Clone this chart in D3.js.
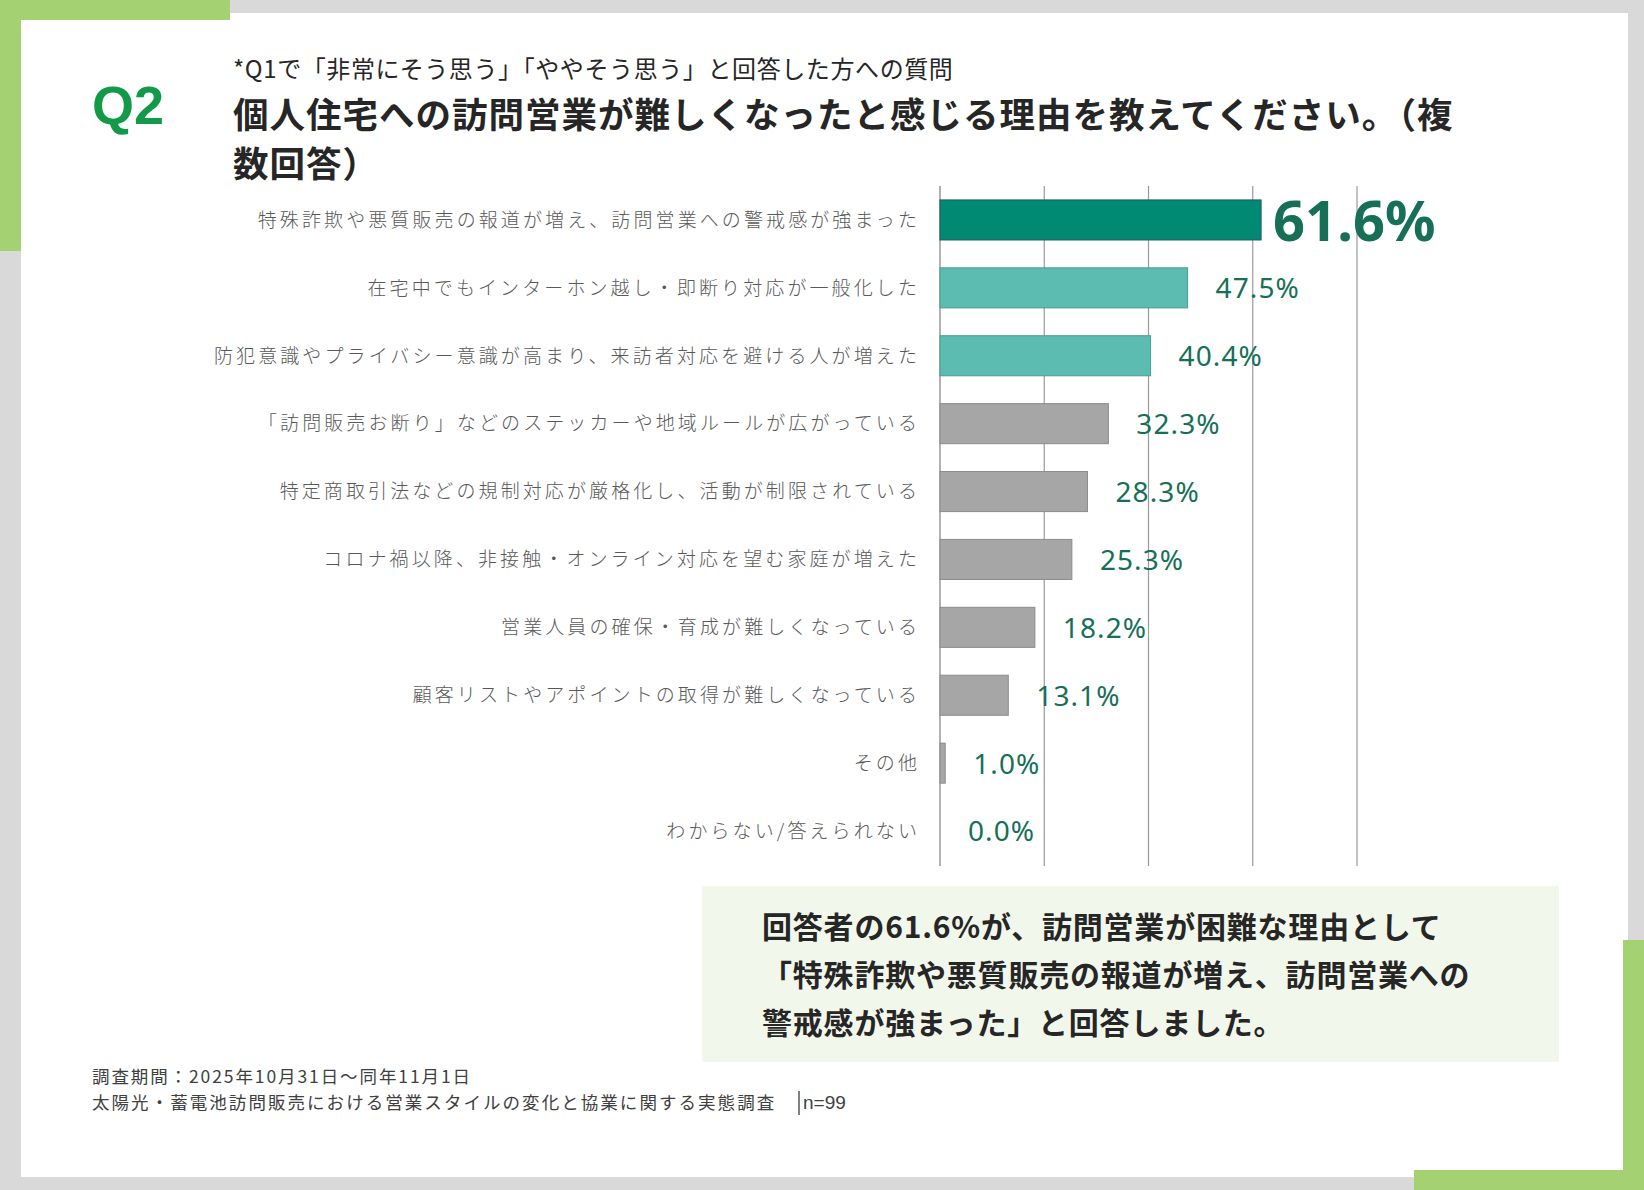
<!DOCTYPE html>
<html lang="ja">
<head>
<meta charset="utf-8">
<script src="https://cdn.jsdelivr.net/npm/d3@7"></script>
<style>
  html, body { margin: 0; padding: 0; background: #d9d9d9; }
  svg { display: block; }
</style>
</head>
<body>
<svg id="chart"></svg>
<script>
// data
const categories = [
  "特殊詐欺や悪質販売の報道が増え、訪問営業への警戒感が強まった",
  "在宅中でもインターホン越し・即断り対応が一般化した",
  "防犯意識やプライバシー意識が高まり、来訪者対応を避ける人が増えた",
  "「訪問販売お断り」などのステッカーや地域ルールが広がっている",
  "特定商取引法などの規制対応が厳格化し、活動が制限されている",
  "コロナ禍以降、非接触・オンライン対応を望む家庭が増えた",
  "営業人員の確保・育成が難しくなっている",
  "顧客リストやアポイントの取得が難しくなっている",
  "その他",
  "わからない/答えられない"
];
const values = [61.6, 47.5, 40.4, 32.3, 28.3, 25.3, 18.2, 13.1, 1.0, 0.0];
const gridTicks = [0, 20, 40, 60, 80];

const subtitle = "*Q1で「非常にそう思う」「ややそう思う」と回答した方への質問";
const titleLines = [
  "個人住宅への訪問営業が難しくなったと感じる理由を教えてください。（複",
  "数回答）"
];
const calloutLines = [
  "回答者の61.6%が、訪問営業が困難な理由として",
  "「特殊詐欺や悪質販売の報道が増え、訪問営業への",
  "警戒感が強まった」と回答しました。"
];
const footerLines = [
  "調査期間：2025年10月31日〜同年11月1日",
  "太陽光・蓄電池訪問販売における営業スタイルの変化と協業に関する実態調査"
];
const sampleNote = "n=99";

const width = 1644;
const height = 1190;

const jp = "'Noto Sans CJK JP', 'Noto Sans', sans-serif";

const svg = d3.select("#chart")
  .attr("width", width)
  .attr("height", height)
  .attr("viewBox", [0, 0, width, height]);

// page frame: grey back, white card, green corner brackets
svg.append("rect").attr("width", width).attr("height", height).attr("fill", "#d9d9d9");
svg.append("rect").attr("x", 21).attr("y", 13).attr("width", 1607).attr("height", 1164).attr("fill", "#fff");

const green = "#a4d171";
svg.append("rect").attr("x", 0).attr("y", 0).attr("width", 230).attr("height", 20).attr("fill", green);
svg.append("rect").attr("x", 0).attr("y", 0).attr("width", 21).attr("height", 251).attr("fill", green);
svg.append("rect").attr("x", 1623).attr("y", 940).attr("width", 21).attr("height", 250).attr("fill", green);
svg.append("rect").attr("x", 1414).attr("y", 1170).attr("width", 230).attr("height", 20).attr("fill", green);

// heading
svg.append("text")
  .attr("x", 92).attr("y", 124)
  .attr("font-family", "'Liberation Sans', Arial, sans-serif")
  .attr("font-weight", 700)
  .attr("font-size", 54)
  .attr("fill", "#129a48")
  .text("Q2");

svg.append("text")
  .attr("x", 233).attr("y", 78)
  .attr("font-family", jp)
  .attr("font-size", 24)
  .attr("letter-spacing", 0.6)
  .attr("fill", "#262626")
  .text(subtitle);

svg.append("g")
  .selectAll("text")
  .data(titleLines)
  .join("text")
  .attr("x", 233)
  .attr("y", (d, i) => 128 + i * 49)
  .attr("font-family", jp)
  .attr("font-weight", 700)
  .attr("font-size", 35.5)
  .attr("letter-spacing", 1)
  .attr("fill", "#262626")
  .text(d => d);

// scales
const x = d3.scaleLinear().domain([0, 80]).range([940, 1357]);
const y = d3.scaleBand()
  .domain(categories)
  .range([186, 865])
  .paddingInner(0.41)
  .paddingOuter(0.205);

// grid lines
svg.append("g")
  .selectAll("line")
  .data(gridTicks)
  .join("line")
  .attr("x1", d => x(d)).attr("x2", d => x(d))
  .attr("y1", 186).attr("y2", 866)
  .attr("stroke", d => d === 0 ? "#7f7f7f" : "#9a9a9a")
  .attr("stroke-width", 1.2);

const fillFor = i => i === 0 ? "#008a73" : (i < 3 ? "#5dbcb1" : "#a6a6a6");
const strokeFor = i => i === 0 ? "#1f5e52" : (i < 3 ? "#4a9c92" : "#8c8c8c");

// bars
svg.append("g")
  .selectAll("rect")
  .data(values)
  .join("rect")
  .attr("x", x(0))
  .attr("y", (d, i) => y(categories[i]))
  .attr("width", d => x(d) - x(0))
  .attr("height", y.bandwidth())
  .attr("fill", (d, i) => fillFor(i))
  .attr("stroke", (d, i) => d > 0 ? strokeFor(i) : "none")
  .attr("stroke-width", 1);

// category labels
svg.append("g")
  .selectAll("text")
  .data(categories)
  .join("text")
  .attr("x", 920)
  .attr("y", d => y(d) + y.bandwidth() / 2)
  .attr("dy", "0.36em")
  .attr("text-anchor", "end")
  .attr("font-family", jp)
  .attr("font-weight", 300)
  .attr("font-size", 19)
  .attr("letter-spacing", 3.1)
  .attr("fill", "#595959")
  .text(d => d);

// value labels
svg.append("g")
  .selectAll("text")
  .data(values)
  .join("text")
  .attr("x", (d, i) => x(d) + (i === 0 ? 12 : 28))
  .attr("y", (d, i) => y(categories[i]) + y.bandwidth() / 2)
  .attr("dy", "0.37em")
  .attr("font-family", "'Noto Sans', 'Open Sans', sans-serif")
  .attr("font-weight", (d, i) => i === 0 ? 700 : 400)
  .attr("font-size", (d, i) => i === 0 ? 56 : 28)
  .attr("letter-spacing", (d, i) => i === 0 ? 0 : 1.1)
  .attr("fill", "#176f58")
  .text(d => d.toFixed(1) + "%");

// callout
svg.append("rect")
  .attr("x", 702).attr("y", 886)
  .attr("width", 857).attr("height", 176)
  .attr("fill", "#f2f7ec");

svg.append("g")
  .selectAll("text")
  .data(calloutLines)
  .join("text")
  .attr("x", 762)
  .attr("y", (d, i) => 938 + i * 48)
  .attr("font-family", jp)
  .attr("font-weight", 700)
  .attr("font-size", 30)
  .attr("letter-spacing", 0.8)
  .attr("fill", "#262626")
  .text(d => d);

// footer
const foot = svg.append("g")
  .attr("font-family", jp)
  .attr("font-size", 17.5)
  .attr("fill", "#404040");

foot.selectAll("text")
  .data(footerLines)
  .join("text")
  .attr("x", 92)
  .attr("y", (d, i) => 1083 + i * 26)
  .attr("letter-spacing", (d, i) => i === 0 ? 1.9 : 2.05)
  .text(d => d);

foot.append("line")
  .attr("x1", 799).attr("x2", 799)
  .attr("y1", 1091).attr("y2", 1115)
  .attr("stroke", "#404040")
  .attr("stroke-width", 1.3);

foot.append("text")
  .attr("x", 803).attr("y", 1109)
  .attr("font-family", "'Liberation Sans', Arial, sans-serif")
  .attr("font-size", 19)
  .text(sampleNote);
</script>
</body>
</html>
